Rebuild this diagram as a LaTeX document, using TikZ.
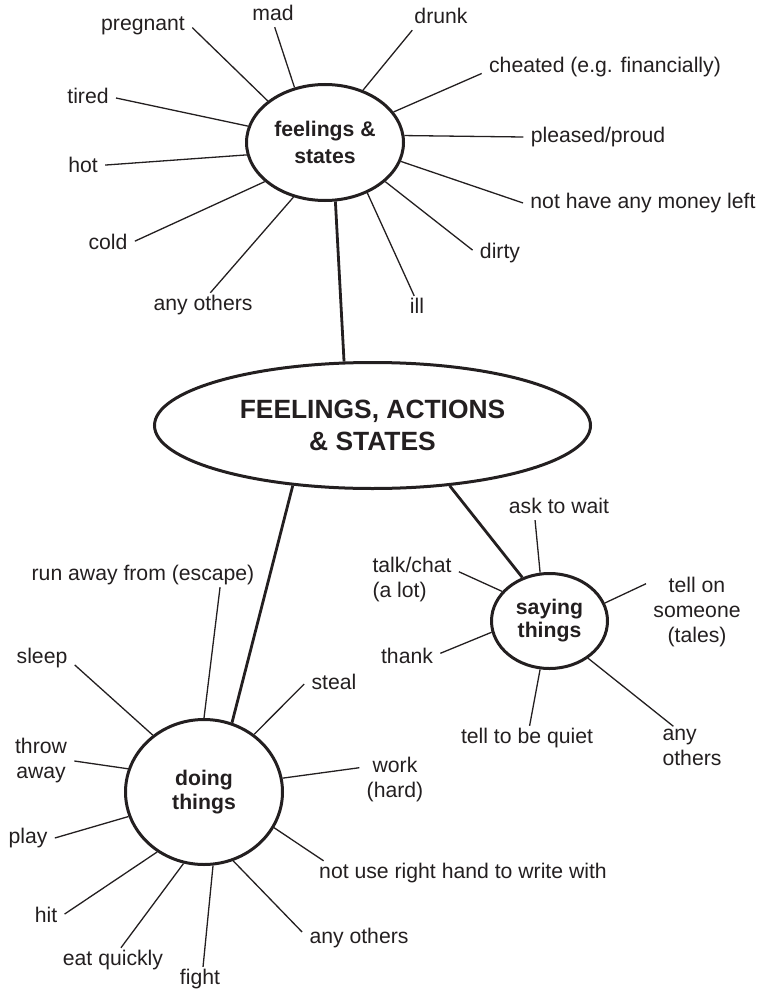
\documentclass[tikz,border=0pt]{standalone}
\usepackage{fontspec}
\setmainfont{Liberation Sans}
\usetikzlibrary{shapes.geometric}
\definecolor{ink}{HTML}{231F20}

\begin{document}
\begin{tikzpicture}[x=0.5pt,y=-0.5pt,color=ink,
	font=\fontsize{10.6}{12.5}\selectfont,
	lbl/.style={inner xsep=3.5pt,inner ysep=1pt,text height=7.6pt,text depth=2.2pt},
	lbls/.style={inner xsep=3.5pt,inner ysep=1pt,align=center},
	hub/.style={ellipse,draw,line width=1.5pt,inner sep=0pt,align=center,font=\fontsize{10.6}{12.5}\selectfont\bfseries},
	spoke/.style={line width=0.65pt},
	link/.style={line width=1.4pt}]
	  \useasboundingbox (0,0) rectangle (761,990);
	  \node[hub,minimum width=218pt,minimum height=63pt,font=\fontsize{13.2}{16}\selectfont\bfseries] (main) at (372.5,425.5) {FEELINGS, ACTIONS\\\& STATES};
	  \node[hub,minimum width=78.5pt,minimum height=58pt,font=\fontsize{10.6}{13.5}\selectfont\bfseries] (feel) at (325,142.5) {feelings \&\\states};
	  \node[hub,minimum width=58pt,minimum height=47.5pt,font=\fontsize{10.6}{11.5}\selectfont\bfseries] (say) at (549.5,621) {saying\\things};
	  \node[hub,minimum width=78.5pt,minimum height=72.5pt,font=\fontsize{10.6}{12}\selectfont\bfseries] (doing) at (204,792) {doing\\things};

	  \node[lbl] (pregnant) at (143,25)  {pregnant};
	  \node[lbl] (mad)      at (273,15)  {mad};
	  \node[lbl] (drunk)    at (441,18)  {drunk};
	  \node[lbl] (cheated)  at (605,67)  {cheated (e.g. financially)};
	  \node[lbl] (proud)    at (598,137) {pleased/proud};
	  \node[lbl] (money)    at (643,203) {not have any money left};
	  \node[lbl] (dirty)    at (500,253) {dirty};
	  \node[lbl] (ill)      at (417,308) {ill};
	  \node[lbl] (otherf)   at (203,305) {any others};
	  \node[lbl] (cold)     at (108,244) {cold};
	  \node[lbl] (hot)      at (83,167)  {hot};
	  \node[lbl] (tired)    at (88,98)   {tired};

	  \node[lbl] (ask)          at (559,508) {ask to wait};
	  \node[lbls,align=left] (talk)   at (412,580) {talk/chat\\(a lot)};
	  \node[lbls] (tellon)      at (697,612) {tell on\\someone\\(tales)};
	  \node[lbl] (thank)        at (407,658) {thank};
	  \node[lbl] (quiet)        at (527,738) {tell to be quiet};
	  \node[lbls,align=left] (others) at (692,747) {any\\others};

	  \node[lbl] (runaway)  at (143,575) {run away from (escape)};
	  \node[lbl] (sleep)    at (42,658)  {sleep};
	  \node[lbl] (steal)    at (334,684) {steal};
	  \node[lbls] (work)    at (395,780) {work\\(hard)};
	  \node[lbl] (lefthand) at (463,873) {not use right hand to write with};
	  \node[lbl] (otherd)   at (359,938) {any others};
	  \node[lbl] (fight)    at (200,979) {fight};
	  \node[lbl] (eat)      at (113,960) {eat quickly};
	  \node[lbl] (hit)      at (46,917)  {hit};
	  \node[lbl] (play)     at (28,838)  {play};
	  \node[lbls] (throw)   at (41,761)  {throw\\away};

	  \path[link]
(feel.280) edge (main.114)
(main.217) edge (doing.68)
(main.322) edge (say.122)
;
	  \path[spoke]
(pregnant.357) edge (feel.144)
(mad.278) edge (feel.119)
(drunk.203) edge (feel.54)
(cheated.183) edge (feel.24)
(proud.180) edge (feel.5)
(money.180) edge (feel.346)
(dirty.174) edge (feel.327)
(ill.103) edge (feel.310)
(otherf.59) edge (feel.240)
(cold.6) edge (feel.213)
(hot.5) edge (feel.189)
(tired.0) edge (feel.168)
(ask.207) edge (say.101)
(talk.10) edge (say.148)
(tellon.151) edge (say.18)
(thank.8) edge (say.191)
(quiet.78) edge (say.259)
(others.132) edge (say.316)
(runaway.351) edge (doing.90)
(sleep.348) edge (doing.132)
(steal.180) edge (doing.49)
(work.161) edge (doing.10)
(lefthand.175) edge (doing.333)
(otherd.174) edge (doing.293)
(fight.76) edge (doing.277)
(eat.57) edge (doing.254)
(hit.9) edge (doing.232)
(play.0) edge (doing.198)
(throw.0) edge (doing.163)
;
	\end{tikzpicture}
\end{document}
